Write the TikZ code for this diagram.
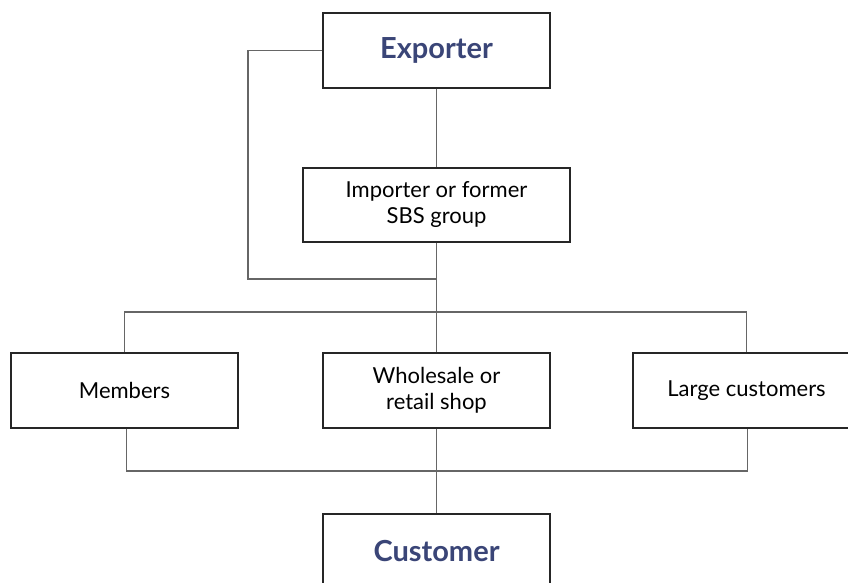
\documentclass[tikz,border=0pt]{standalone}
\usepackage{fontspec}
\setmainfont{Lato}
\usepackage{xcolor}
\definecolor{navy}{HTML}{3A4577}
\tikzset{
    box/.style={draw=black!85, line width=1.1pt, fill=white, minimum width=227pt, minimum height=75pt, align=center, font=\fontsize{22}{26}\selectfont, inner sep=0pt},
    headbox/.style={box, text=navy, font=\fontsize{29}{33}\selectfont\bfseries},
    link/.style={draw=black!60, line width=1.1pt}
}
\begin{document}
\begin{tikzpicture}[x=1pt, y=-1pt]
                \useasboundingbox (0, 0) rectangle (848, 583);
                \clip (0, 0) rectangle (848, 583);
                \node[headbox] (exporter) at (436.5, 50.5) {Exporter};
                \node[box, minimum width=267pt, minimum height=74pt] (importer) at (436.5, 205) {Importer or former\\SBS group};
                \node[box] (members) at (124.5, 390.5) {Members};
                \node[box] (shop) at (436.5, 390.5) {Wholesale or\\retail shop};
                \node[box] (large) at (746.5, 390.5) {Large customers};
                \node[headbox] (customer) at (436.5, 551.5) {Customer};
                \coordinate (loop) at (248, 279);
                \coordinate (join) at (exporter.south |- loop);
                \coordinate (upbus) at (exporter.south |- 0, 312);
                \coordinate (lowbus) at (exporter.south |- 0, 471);
                \draw[link] (exporter) -- (importer);
                \draw[link] (exporter.west) -| (loop) -- (join);
                \draw[link] (importer) -- (upbus);
                \draw[link] (members.north) |- (upbus) -| (large.north);
                \draw[link] (upbus) -- (shop.north);
                \draw[link] (shop.south) -- (lowbus);
                \draw[link] ([xshift=2pt]members.south) |- (lowbus) -| ([xshift=1pt]large.south);
                \draw[link] (lowbus) -- (customer);
            \end{tikzpicture}
\end{document}
